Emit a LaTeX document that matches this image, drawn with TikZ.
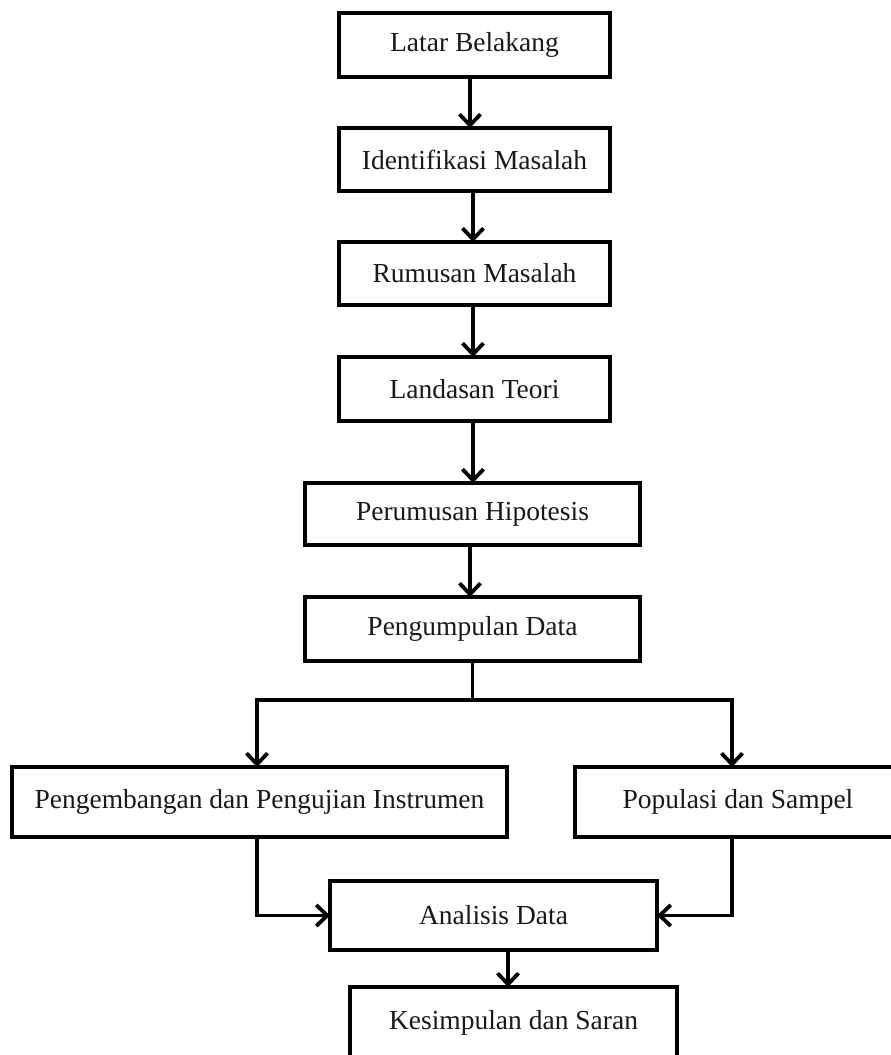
\documentclass[tikz,border=0pt]{standalone}
\usepackage{fontspec}
\setmainfont{Liberation Serif}
\usetikzlibrary{arrows.meta}
\tikzset{
  box/.style={draw=black, line width=3.5pt, fill=white, inner sep=0pt, outer sep=0pt,
    font=\fontsize{27.5}{33}\selectfont, text=black!90},
  arr/.style={draw=black, line width=3.8pt, -{Straight Barb[length=11pt,width=21pt,line width=3.8pt]}},
}
\begin{document}
\begin{tikzpicture}[x=1pt,y=-1pt]
\path[use as bounding box, clip] (0,0) rectangle (891,1055);
\fill[white] (0,0) rectangle (891,1055);
\node[box, minimum width=271pt, minimum height=64pt] (b1) at (474.5,45) {Latar Belakang};
\node[box, minimum width=271pt, minimum height=63pt] (b2) at (474.5,159.5) {Identifikasi Masalah};
\node[box, minimum width=271pt, minimum height=63pt] (b3) at (474.5,273.5) {Rumusan Masalah};
\node[box, minimum width=271pt, minimum height=64pt] (b4) at (474.5,389) {Landasan Teori};
\node[box, minimum width=335pt, minimum height=62pt] (b5) at (472.5,514) {Perumusan Hipotesis};
\node[box, minimum width=335pt, minimum height=64pt] (b6) at (472.5,629) {Pengumpulan Data};
\node[box, minimum width=495pt, minimum height=70pt] (b7) at (259.5,802) {Pengembangan dan Pengujian Instrumen};
\node[box, minimum width=326pt, minimum height=70pt] (b8) at (738,802) {Populasi dan Sampel};
\node[box, minimum width=327pt, minimum height=69pt] (b9) at (493.5,915.5) {Analisis Data};
\node[box, minimum width=327pt, minimum height=72pt] (b10) at (513.5,1023) {Kesimpulan dan Saran};
\coordinate (split) at (472.5,700);
\draw[arr] ([xshift=-4.5pt]b1.south) -- ([xshift=-4.5pt]b2.north);
\draw[arr] ([xshift=-1.5pt]b2.south) -- ([xshift=-1.5pt]b3.north);
\draw[arr] ([xshift=-1.5pt]b3.south) -- ([xshift=-1.5pt]b4.north);
\draw[arr] ([xshift=-1.5pt]b4.south) -- ([xshift=0.5pt]b5.north);
\draw[arr] ([xshift=-2.5pt]b5.south) -- ([xshift=-2.5pt]b6.north);
\draw[arr, line join=miter] (b6.south) -- (split) -| ([xshift=-2.5pt]b7.north);
\draw[arr, line join=miter] (split) -| ([xshift=-6pt]b8.north);
\draw[arr, line join=miter] ([xshift=-2.5pt]b7.south) |- (b9.west);
\draw[arr, line join=miter] ([xshift=-6pt]b8.south) |- (b9.east);
\draw[arr] ([xshift=-5.5pt]b10.north |- b9.south) -- ([xshift=-5.5pt]b10.north);
\end{tikzpicture}
\end{document}
